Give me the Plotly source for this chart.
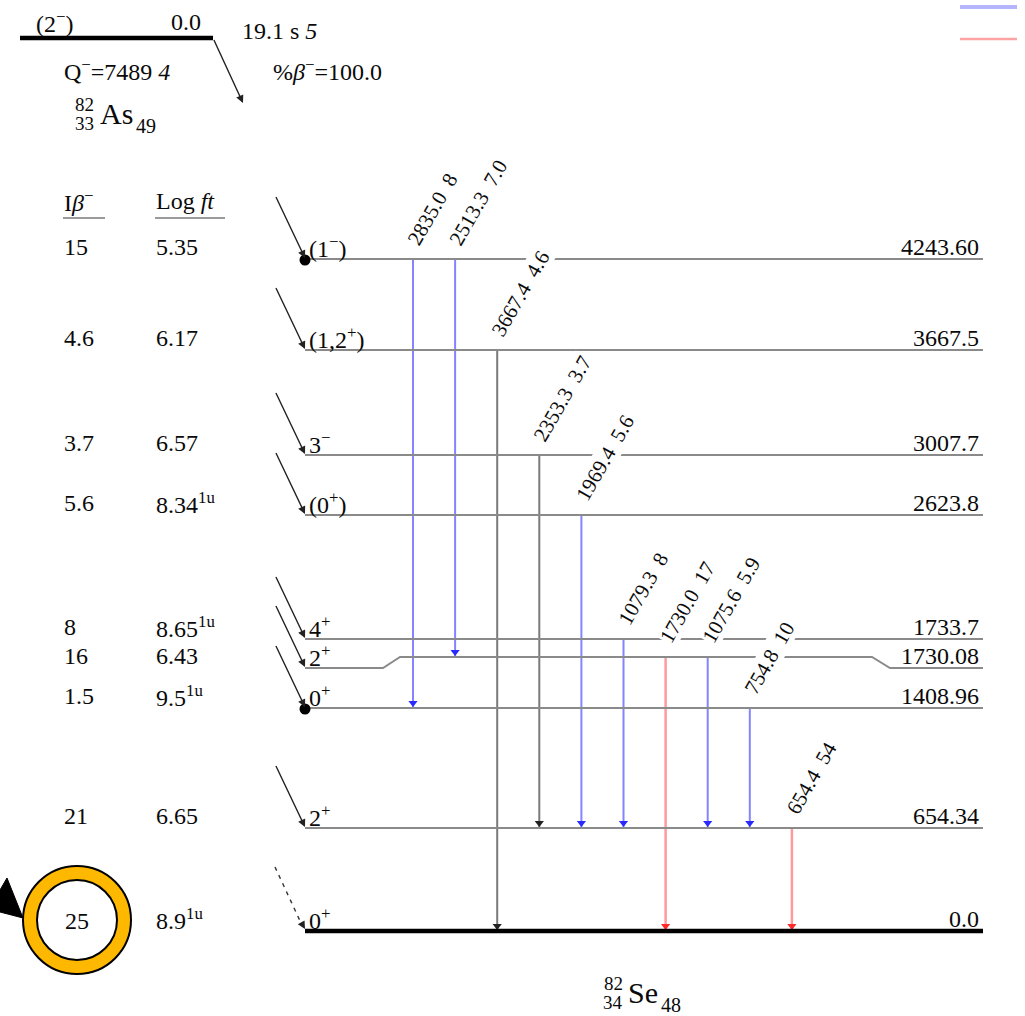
import plotly.graph_objects as go

# ---------------- data ----------------
level_energy = ["4243.60", "3667.5", "3007.7", "2623.8", "1733.7", "1730.08", "1408.96", "654.34", "0.0"]
level_spin = ["(1<sup>−</sup>)", "(1,2<sup>+</sup>)", "3<sup>−</sup>", "(0<sup>+</sup>)", "4<sup>+</sup>",
              "2<sup>+</sup>", "0<sup>+</sup>", "2<sup>+</sup>", "0<sup>+</sup>"]
beta_intensity = ["15", "4.6", "3.7", "5.6", "8", "16", "1.5", "21", "25"]
log_ft = ["5.35", "6.17", "6.57", "8.34", "8.65", "6.43", "9.5", "6.65", "8.9"]
log_ft_flag = ["", "", "", "1u", "1u", "", "1u", "", "1u"]
coincidence_levels = [0, 6]
highlight_level = 8

gamma_energy = ["2835.0", "2513.3", "3667.4", "2353.3", "1969.4", "1079.3", "1730.0", "1075.6", "754.8", "654.4"]
gamma_intensity = ["8", "7.0", "4.6", "3.7", "5.6", "8", "17", "5.9", "10", "54"]
gamma_from = [0, 0, 1, 2, 3, 4, 5, 5, 6, 7]
gamma_to = [6, 5, 8, 7, 7, 7, 8, 7, 7, 8]
gamma_class = ["blue", "blue", "black", "black", "blue", "blue", "red", "blue", "blue", "red"]

parent_spin = "(2<sup>−</sup>)"
parent_energy = "0.0"
parent_halflife = "19.1 s <i>5</i>"
parent_q = "Q<sup>−</sup>=7489 <i>4</i>"
parent_branch = "%<i>β</i><sup>−</sup>=100.0"

# ---------------- layout (drawing positions) ----------------
W, H = 1025, 1016
level_row_y = [259, 350, 455, 515, 639, 657, 708, 828, 931]   # schematic row positions
side_y = {5: 668}                                              # bent level drawn lower at its ends
LX0, LX1 = 305, 983
GX0, GDX = 413, 42.1
FONT = "Liberation Serif"
FS = 24
TXT = "#0a0a0a"
line_col = {"blue": "#8484ff", "black": "#7a7a7a", "red": "#ff9a9a"}
line_w = {"blue": 2, "black": 2, "red": 2.5}
head_col = {"blue": "#2a2aff", "black": "#222222", "red": "#ff2a2a"}

fig = go.Figure()
ann = []
shapes = []


def sy(i):
    return side_y.get(i, level_row_y[i])


def text(x, y, t, size=FS, xa="left", ya="middle", **kw):
    ann.append(dict(x=x, y=y, xref="x", yref="y", text=t, showarrow=False, xanchor=xa, yanchor=ya,
                    font=dict(family=FONT, size=size, color=TXT), **kw))


def arrow(x, y, ax, ay):
    ann.append(dict(x=x, y=y, ax=ax, ay=ay, xref="x", yref="y", axref="x", ayref="y",
                    text=" ", showarrow=True, arrowhead=2, arrowsize=1.1, arrowwidth=1.4,
                    arrowcolor="#222222", standoff=0, font=dict(size=1)))


# gamma lines (under levels)
for k in range(len(gamma_energy)):
    gx = GX0 + GDX * k
    y0 = level_row_y[gamma_from[k]]
    y1 = level_row_y[gamma_to[k]]
    c = gamma_class[k]
    fig.add_trace(go.Scatter(x=[gx, gx], y=[y0, y1], mode="lines",
                             line=dict(color=line_col[c], width=line_w[c]), hoverinfo="skip"))
    fig.add_trace(go.Scatter(x=[gx], y=[y1 - 5], mode="markers",
                             marker=dict(symbol="triangle-down", size=8, color=head_col[c], line=dict(width=0)),
                             hoverinfo="skip"))

# level lines
for i in range(len(level_energy)):
    y = level_row_y[i]
    if i in side_y:
        ys = side_y[i]
        xs = [LX0, 383, 400, 872, 890, LX1]
        yy = [ys, ys, y, y, ys, ys]
    else:
        xs = [LX0, LX1]
        yy = [y, y]
    ground = level_energy[i] == "0.0"
    fig.add_trace(go.Scatter(x=xs, y=yy, mode="lines",
                             line=dict(color="#000000" if ground else "#8a8a8a", width=4.5 if ground else 2),
                             hoverinfo="skip"))
    # labels
    text(LX1 - 2, sy(i) - 12, level_energy[i], xa="right")
    text(307, sy(i) - 12, level_spin[i])
    if i == highlight_level:
        text(77, sy(i) - 10, beta_intensity[i], xa="center")
    else:
        text(62, sy(i) - 12, beta_intensity[i])
    lf = log_ft[i] + (f"<sup>{log_ft_flag[i]}</sup>" if log_ft_flag[i] else "")
    text(154, sy(i) - 12, lf)
    # beta feeding arrow
    if level_energy[i] != "0.0":
        arrow(LX0, sy(i) - 1, 275, sy(i) - 64)
    else:
        fig.add_trace(go.Scatter(x=[275, 301], y=[sy(i) - 64, sy(i) - 8], mode="lines",
                                 line=dict(color="#333333", width=1.4, dash="4px,5px"), hoverinfo="skip"))
        arrow(LX0, sy(i) - 2, 301, sy(i) - 9)

# coincidence dots
fig.add_trace(go.Scatter(x=[LX0 for _ in coincidence_levels], y=[level_row_y[i] + 1 for i in coincidence_levels],
                         mode="markers", marker=dict(size=11, color="#000000"), hoverinfo="skip"))


# gamma labels
def width_est(s, fs):
    w = 0
    for ch in s:
        w += 0.25 if ch in ". \u00a0" else 0.5
    return w * fs


GFS = 21
for k in range(len(gamma_energy)):
    gx = GX0 + GDX * k
    y0 = level_row_y[gamma_from[k]]
    lab = gamma_energy[k] + "\u00a0\u00a0" + gamma_intensity[k]
    L = width_est(lab, GFS)
    cx = gx + 0.25 * L
    cy = y0 - 16 - 0.433 * L
    ann.append(dict(x=cx, y=cy, xref="x", yref="y", text=lab, showarrow=False, textangle=-60,
                    xanchor="center", yanchor="middle", bgcolor="white", borderpad=0,
                    font=dict(family=FONT, size=GFS, color=TXT)))

# column headers
text(62, 201, "I<i>β</i><sup>−</sup>")
text(154, 201, "Log <i>ft</i>")
shapes.append(dict(type="line", xref="x", yref="y", x0=63, x1=105, y0=218, y1=218,
                   line=dict(color="#9a9a9a", width=2)))
shapes.append(dict(type="line", xref="x", yref="y", x0=155, x1=225, y0=218, y1=218,
                   line=dict(color="#9a9a9a", width=2)))

# parent level
fig.add_trace(go.Scatter(x=[20, 213], y=[38, 38], mode="lines", line=dict(color="#000000", width=4.5),
                         hoverinfo="skip"))
arrow(243, 103, 213, 38)
text(34, 22, parent_spin)
text(203, 22, parent_energy, xa="right")
text(240, 31, parent_halflife)
text(62, 70, parent_q)
text(271, 70, parent_branch)
# nuclide labels
text(84, 104, "82", size=19, xa="center")
text(84, 123, "33", size=19, xa="center")
text(98, 113, "As", size=30)
text(134, 126, "49", size=20)
text(613, 983, "82", size=19, xa="center")
text(613, 1002, "34", size=19, xa="center")
text(626, 992, "Se", size=30)
text(659, 1005, "48", size=20)

# legend swatches (top right)
fig.add_trace(go.Scatter(x=[960, 1017], y=[7, 7], mode="lines", line=dict(color="#b4b4ff", width=4),
                         hoverinfo="skip"))
fig.add_trace(go.Scatter(x=[960, 1017], y=[39, 39], mode="lines", line=dict(color="#ffa4a4", width=2.5),
                         hoverinfo="skip"))

# highlight ring
shapes.append(dict(type="circle", xref="x", yref="y", x0=23, x1=131, y0=866, y1=974,
                   fillcolor="#FFB800", line=dict(color="#000000", width=2)))
shapes.append(dict(type="circle", xref="x", yref="y", x0=37, x1=117, y0=880, y1=960,
                   fillcolor="#FFFFFF", line=dict(color="#000000", width=2)))
shapes.append(dict(type="path", xref="x", yref="y", path="M 0,890 L 7,878 L 23,918 L 0,912 Z",
                   fillcolor="#000000", line=dict(color="#000000", width=1)))

fig.update_layout(
    width=W, height=H, autosize=False, showlegend=False,
    margin=dict(l=0, r=0, t=0, b=0), paper_bgcolor="white", plot_bgcolor="white",
    xaxis=dict(range=[0, W], visible=False, fixedrange=True),
    yaxis=dict(range=[H, 0], visible=False, fixedrange=True),
    annotations=ann, shapes=shapes,
)
fig.write_html("out.html")
